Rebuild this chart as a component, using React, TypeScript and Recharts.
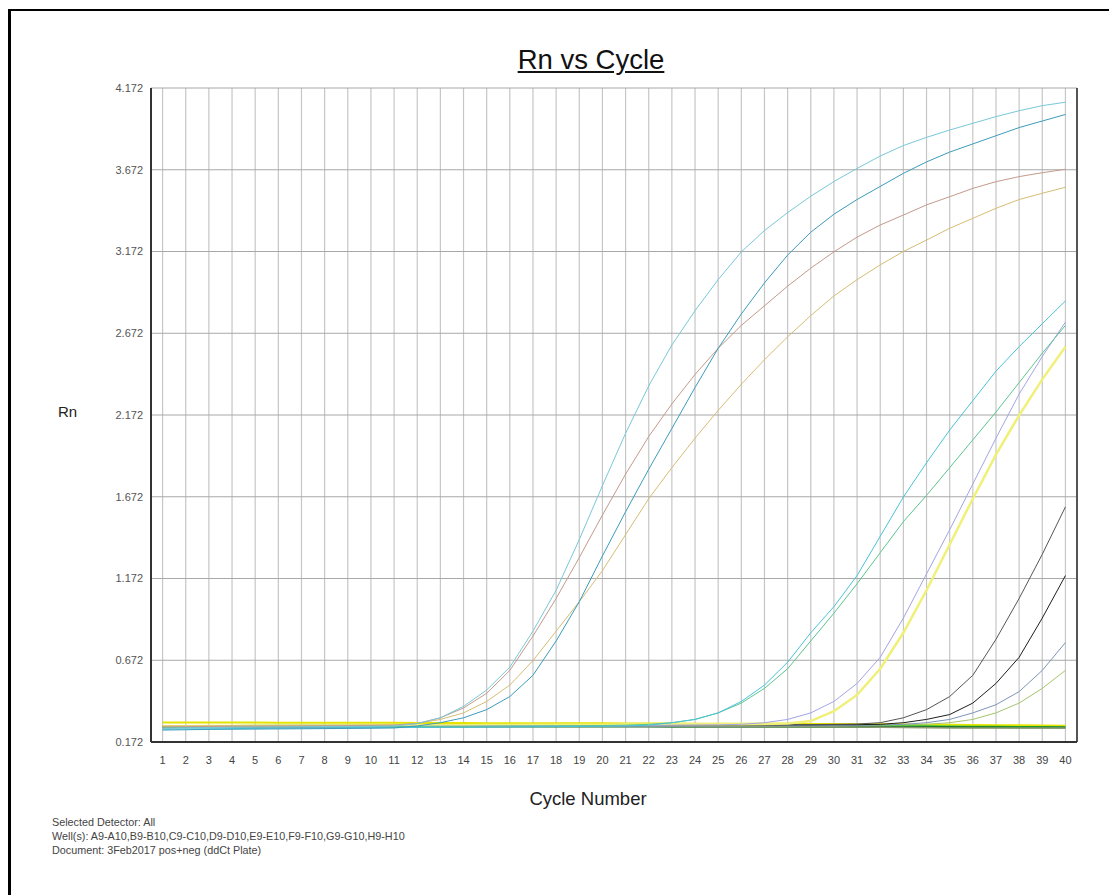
import React from 'react';
import { LineChart, Line, XAxis, YAxis, CartesianGrid, ReferenceLine } from 'recharts';

const cycles = [1, 2, 3, 4, 5, 6, 7, 8, 9, 10, 11, 12, 13, 14, 15, 16, 17, 18, 19, 20, 21, 22, 23, 24, 25, 26, 27, 28, 29, 30, 31, 32, 33, 34, 35, 36, 37, 38, 39, 40];
const yTicks = [0.172, 0.672, 1.172, 1.672, 2.172, 2.672, 3.172, 3.672, 4.172];

// early group
const wellA = [0.255, 0.258, 0.26, 0.262, 0.263, 0.264, 0.265, 0.266, 0.267, 0.268, 0.27, 0.285, 0.32, 0.39, 0.49, 0.63, 0.85, 1.1, 1.41, 1.74, 2.06, 2.35, 2.6, 2.81, 3.0, 3.17, 3.3, 3.41, 3.51, 3.6, 3.68, 3.756, 3.82, 3.87, 3.915, 3.956, 3.997, 4.033, 4.064, 4.085];
const wellB = [0.245, 0.247, 0.249, 0.25, 0.251, 0.252, 0.253, 0.254, 0.255, 0.256, 0.258, 0.27, 0.29, 0.32, 0.37, 0.45, 0.58, 0.79, 1.03, 1.31, 1.58, 1.84, 2.09, 2.34, 2.58, 2.79, 2.98, 3.15, 3.29, 3.4, 3.49, 3.57, 3.65, 3.72, 3.78, 3.83, 3.88, 3.93, 3.97, 4.01];
const wellC = [0.265, 0.266, 0.267, 0.268, 0.268, 0.269, 0.27, 0.271, 0.272, 0.273, 0.275, 0.285, 0.32, 0.38, 0.47, 0.61, 0.82, 1.05, 1.3, 1.56, 1.81, 2.04, 2.24, 2.42, 2.58, 2.72, 2.84, 2.96, 3.07, 3.17, 3.26, 3.334, 3.395, 3.457, 3.507, 3.558, 3.599, 3.63, 3.654, 3.675];
const wellD = [0.27, 0.27, 0.271, 0.272, 0.272, 0.273, 0.274, 0.274, 0.275, 0.276, 0.277, 0.285, 0.31, 0.35, 0.42, 0.52, 0.67, 0.85, 1.03, 1.22, 1.44, 1.66, 1.85, 2.03, 2.2, 2.36, 2.51, 2.65, 2.78, 2.9, 3.0, 3.09, 3.172, 3.242, 3.314, 3.375, 3.436, 3.49, 3.528, 3.565];
// middle group
const wellE = [0.25, 0.252, 0.253, 0.254, 0.255, 0.256, 0.257, 0.258, 0.259, 0.26, 0.26, 0.261, 0.262, 0.262, 0.263, 0.264, 0.265, 0.266, 0.267, 0.268, 0.27, 0.275, 0.29, 0.31, 0.35, 0.42, 0.52, 0.66, 0.84, 1.0, 1.19, 1.43, 1.67, 1.88, 2.08, 2.26, 2.44, 2.59, 2.73, 2.87];
const wellF = [0.26, 0.261, 0.262, 0.263, 0.263, 0.264, 0.265, 0.265, 0.266, 0.266, 0.267, 0.267, 0.268, 0.268, 0.269, 0.27, 0.27, 0.271, 0.272, 0.273, 0.275, 0.28, 0.29, 0.31, 0.35, 0.41, 0.5, 0.62, 0.79, 0.96, 1.14, 1.33, 1.52, 1.68, 1.85, 2.02, 2.19, 2.37, 2.55, 2.72];
const wellG = [0.262, 0.263, 0.264, 0.264, 0.265, 0.265, 0.266, 0.266, 0.267, 0.267, 0.268, 0.268, 0.269, 0.269, 0.27, 0.27, 0.271, 0.271, 0.272, 0.272, 0.273, 0.274, 0.275, 0.276, 0.277, 0.28, 0.29, 0.31, 0.35, 0.42, 0.53, 0.69, 0.93, 1.2, 1.47, 1.75, 2.03, 2.3, 2.53, 2.74];
const wellH = [0.268, 0.269, 0.27, 0.27, 0.271, 0.271, 0.272, 0.272, 0.273, 0.273, 0.274, 0.274, 0.275, 0.275, 0.276, 0.276, 0.277, 0.277, 0.278, 0.278, 0.279, 0.279, 0.28, 0.28, 0.281, 0.281, 0.282, 0.285, 0.3, 0.36, 0.46, 0.62, 0.84, 1.1, 1.38, 1.66, 1.93, 2.17, 2.39, 2.59];
// late group
const wellI = [0.265, 0.266, 0.266, 0.267, 0.267, 0.268, 0.268, 0.269, 0.269, 0.27, 0.27, 0.271, 0.271, 0.272, 0.272, 0.273, 0.273, 0.274, 0.274, 0.275, 0.275, 0.276, 0.276, 0.277, 0.277, 0.278, 0.278, 0.279, 0.279, 0.28, 0.282, 0.29, 0.32, 0.37, 0.45, 0.58, 0.8, 1.05, 1.32, 1.61];
const wellJ = [0.263, 0.264, 0.264, 0.265, 0.265, 0.266, 0.266, 0.267, 0.267, 0.268, 0.268, 0.269, 0.269, 0.27, 0.27, 0.271, 0.271, 0.272, 0.272, 0.273, 0.273, 0.274, 0.274, 0.275, 0.275, 0.276, 0.276, 0.277, 0.277, 0.278, 0.278, 0.28, 0.29, 0.31, 0.34, 0.41, 0.53, 0.69, 0.93, 1.19];
const wellK = [0.258, 0.259, 0.259, 0.26, 0.26, 0.261, 0.261, 0.262, 0.262, 0.263, 0.263, 0.264, 0.264, 0.265, 0.265, 0.266, 0.266, 0.267, 0.267, 0.268, 0.268, 0.269, 0.269, 0.27, 0.27, 0.271, 0.271, 0.272, 0.272, 0.273, 0.274, 0.276, 0.28, 0.29, 0.31, 0.35, 0.4, 0.48, 0.61, 0.78];
const wellL = [0.262, 0.262, 0.263, 0.263, 0.264, 0.264, 0.265, 0.265, 0.266, 0.266, 0.267, 0.267, 0.268, 0.268, 0.269, 0.269, 0.27, 0.27, 0.271, 0.271, 0.272, 0.272, 0.273, 0.273, 0.274, 0.274, 0.275, 0.275, 0.276, 0.276, 0.277, 0.277, 0.278, 0.28, 0.29, 0.31, 0.35, 0.41, 0.5, 0.61];
// flat wells
const wellM = [0.292, 0.292, 0.291, 0.291, 0.291, 0.29, 0.29, 0.29, 0.289, 0.289, 0.289, 0.288, 0.288, 0.288, 0.287, 0.287, 0.287, 0.286, 0.286, 0.286, 0.285, 0.285, 0.285, 0.284, 0.284, 0.284, 0.283, 0.283, 0.282, 0.282, 0.281, 0.28, 0.279, 0.278, 0.277, 0.276, 0.275, 0.274, 0.273, 0.272];
const wellN = [0.27, 0.27, 0.27, 0.27, 0.271, 0.271, 0.271, 0.271, 0.271, 0.271, 0.272, 0.272, 0.272, 0.272, 0.272, 0.272, 0.272, 0.272, 0.272, 0.272, 0.272, 0.272, 0.272, 0.271, 0.271, 0.271, 0.271, 0.27, 0.27, 0.27, 0.269, 0.269, 0.268, 0.268, 0.267, 0.266, 0.265, 0.264, 0.263, 0.262];
const wellO = [0.262, 0.263, 0.264, 0.265, 0.265, 0.266, 0.266, 0.266, 0.267, 0.267, 0.267, 0.267, 0.267, 0.267, 0.267, 0.267, 0.267, 0.267, 0.267, 0.267, 0.267, 0.267, 0.266, 0.266, 0.266, 0.266, 0.266, 0.265, 0.265, 0.265, 0.265, 0.264, 0.264, 0.263, 0.263, 0.262, 0.262, 0.261, 0.261, 0.26];
const wellP = [0.268, 0.268, 0.268, 0.268, 0.268, 0.268, 0.268, 0.268, 0.268, 0.268, 0.268, 0.268, 0.268, 0.268, 0.268, 0.268, 0.268, 0.267, 0.267, 0.267, 0.267, 0.267, 0.267, 0.267, 0.266, 0.266, 0.266, 0.266, 0.265, 0.265, 0.264, 0.262, 0.26, 0.259, 0.258, 0.258, 0.258, 0.258, 0.258, 0.258];

const seriesKeys = ['M', 'N', 'O', 'P', 'L', 'K', 'J', 'I', 'H', 'G', 'F', 'E', 'D', 'C', 'B', 'A'];
const seriesValues: Record<string, number[]> = {
  A: wellA, B: wellB, C: wellC, D: wellD, E: wellE, F: wellF, G: wellG, H: wellH,
  I: wellI, J: wellJ, K: wellK, L: wellL, M: wellM, N: wellN, O: wellO, P: wellP,
};
const seriesColors: Record<string, string> = {
  A: '#78c8d8', B: '#3c9cbc', C: '#c49a8c', D: '#d6bc74',
  E: '#48c4d8', F: '#5cc490', G: '#a4a4e6', H: '#f0f078',
  I: '#555555', J: '#1e1e1e', K: '#7c96b8', L: '#a6c46c',
  M: '#e4e400', N: '#22c022', O: '#1f7a30', P: '#8c9a70',
};
const seriesWidths: Record<string, number> = {
  A: 1, B: 1, C: 1, D: 1, E: 1, F: 1, G: 1, H: 2.5, I: 1, J: 1, K: 1, L: 1,
  M: 2, N: 2, O: 2, P: 1.5,
};

const data = cycles.map((c, i) => {
  const row: Record<string, number> = { cycle: c };
  Object.keys(seriesValues).forEach((k) => {
    row[k] = seriesValues[k][i];
  });
  return row;
});

const FONT = '"Liberation Sans", Arial, sans-serif';

export default function App() {
  return (
    <div style={{ position: 'absolute', left: 0, top: 0, width: 1109, height: 895, background: '#fff', overflow: 'hidden', fontFamily: FONT }}>
      <div style={{ position: 'absolute', left: 8, top: 9, width: 1200, height: 1000, borderLeft: '3px solid #000', borderTop: '2px solid #000' }} />
      <div style={{ position: 'absolute', left: 391, width: 400, top: 46, textAlign: 'center', fontSize: 27.5, lineHeight: '28px', color: '#111', textDecoration: 'underline' }}>
        Rn vs Cycle
      </div>
      <div style={{ position: 'absolute', left: 58, top: 403, fontSize: 15, lineHeight: '18px', color: '#222' }}>Rn</div>
      <div style={{ position: 'absolute', left: 388, width: 400, top: 788, textAlign: 'center', fontSize: 18.5, lineHeight: '22px', color: '#222' }}>
        Cycle Number
      </div>
      <div style={{ position: 'absolute', left: 52, top: 815, fontSize: 10.8, lineHeight: '14px', color: '#444' }}>
        <div>Selected Detector: All</div>
        <div>Well(s): A9-A10,B9-B10,C9-C10,D9-D10,E9-E10,F9-F10,G9-G10,H9-H10</div>
        <div>Document: 3Feb2017 pos+neg (ddCt Plate)</div>
      </div>
      <div style={{ position: 'absolute', left: 0, top: 0 }}>
        <LineChart width={1109} height={895} data={data} margin={{ top: 88, right: 32, bottom: 123, left: 91 }}>
          <CartesianGrid horizontal={false} stroke="#c6c6c6" strokeWidth={1.2} />
          <CartesianGrid vertical={false} stroke="#a8a8a8" strokeWidth={1} />
          <XAxis
            dataKey="cycle"
            type="number"
            domain={[0.5, 40.5]}
            ticks={cycles}
            interval={0}
            tickLine={false}
            tickMargin={8}
            axisLine={{ stroke: '#333', strokeWidth: 2 }}
            tick={{ fontSize: 11, fill: '#444', fontFamily: FONT }}
            height={30}
            allowDataOverflow
          />
          <YAxis
            type="number"
            domain={[0.172, 4.172]}
            ticks={yTicks}
            interval={0}
            tickLine={false}
            tickFormatter={(v: number) => v.toFixed(3)}
            axisLine={{ stroke: '#333', strokeWidth: 2 }}
            tick={{ fontSize: 11, fill: '#555', fontFamily: FONT }}
            width={60}
            allowDataOverflow
          />
          <ReferenceLine x={40.5} stroke="#555" strokeWidth={2} />
          {seriesKeys.map((k) => (
            <Line
              key={k}
              type="linear"
              dataKey={k}
              stroke={seriesColors[k]}
              strokeWidth={seriesWidths[k]}
              dot={false}
              activeDot={false}
              isAnimationActive={false}
            />
          ))}
        </LineChart>
      </div>
    </div>
  );
}
